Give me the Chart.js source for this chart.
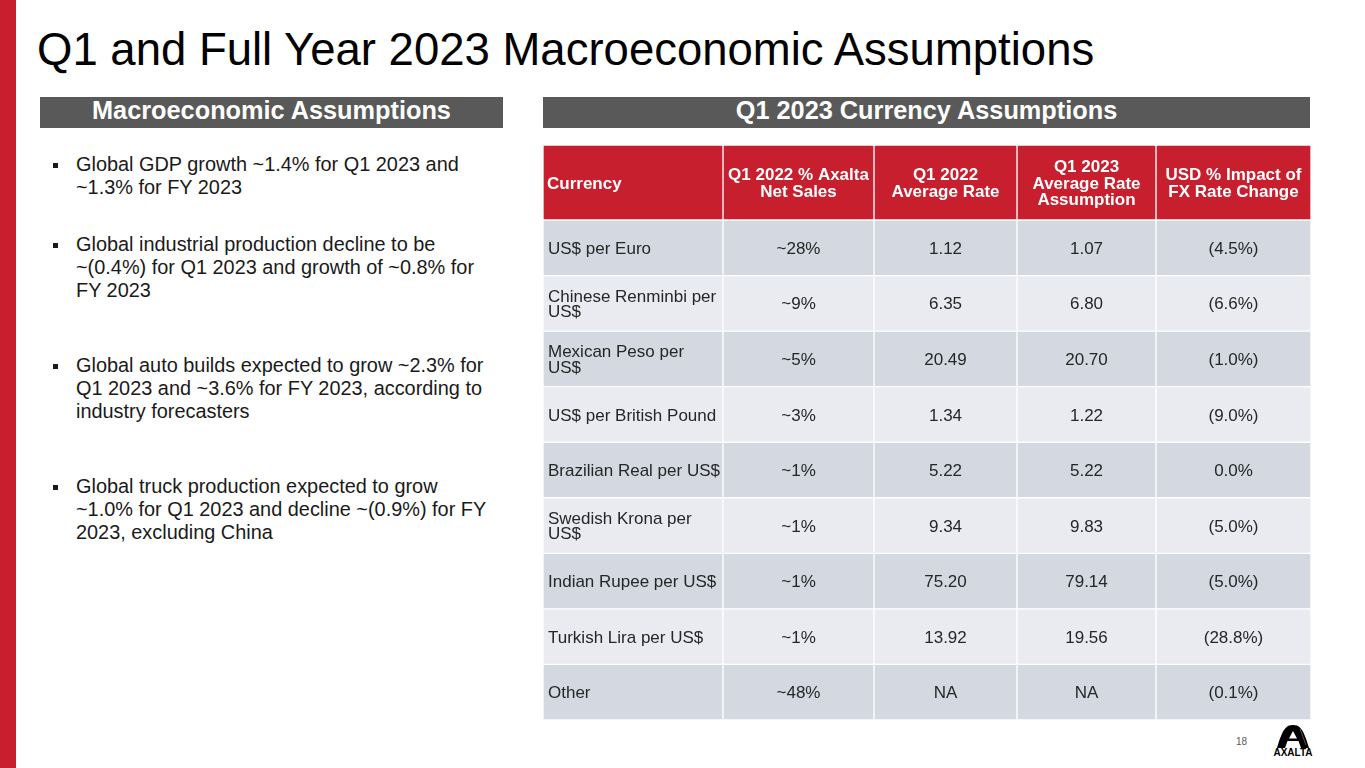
<!DOCTYPE html>
<html>
<head>
<meta charset="utf-8">
<script src="https://cdn.jsdelivr.net/npm/chart.js@4.4.1/dist/chart.umd.min.js"></script>
<style>
  html, body { margin:0; padding:0; background:#fff; }
  body { width:1365px; height:768px; position:relative; overflow:hidden; font-family:"Liberation Sans", Arial, Helvetica, sans-serif; }
  .abs { position:absolute; white-space:nowrap; }
  #redbar { left:0; top:0; width:16px; height:768px; background:#C71F2D; }
  #title { left:37px; top:26.5px; font-size:45.5px; line-height:45.5px; color:#000; }
  .sect { background:#595959; height:31px; top:97px; }
  .sectText { color:#fff; font-weight:bold; font-size:25.3px; line-height:25.3px; top:97.6px; text-align:center; }
  .bullet { left:76px; font-size:19.9px; line-height:23px; color:#1a1a1a; }
  .mark { left:53px; width:5px; height:5px; background:#1a1a1a; }
  canvas { position:absolute; }
  #pgnum { left:1236px; top:737px; font-size:10px; line-height:10px; color:#595959; }
</style>
</head>
<body>
<div id="redbar" class="abs"></div>
<div id="title" class="abs">Q1 and Full Year 2023 Macroeconomic Assumptions</div>

<div class="abs sect" style="left:40px;width:463px;"></div>
<div class="abs sectText" style="left:40px;width:463px;">Macroeconomic Assumptions</div>
<div class="abs sect" style="left:543px;width:767px;"></div>
<div class="abs sectText" style="left:543px;width:767px;">Q1 2023 Currency Assumptions</div>

<div class="abs mark" style="top:162.5px;"></div>
<div class="abs bullet" style="top:153px;">Global GDP growth ~1.4% for Q1 2023 and<br>~1.3% for FY 2023</div>
<div class="abs mark" style="top:242.5px;"></div>
<div class="abs bullet" style="top:232.8px;">Global industrial production decline to be<br>~(0.4%) for Q1 2023 and growth of ~0.8% for<br>FY 2023</div>
<div class="abs mark" style="top:363.5px;"></div>
<div class="abs bullet" style="top:354px;">Global auto builds expected to grow ~2.3% for<br>Q1 2023 and ~3.6% for FY 2023, according to<br>industry forecasters</div>
<div class="abs mark" style="top:484.5px;"></div>
<div class="abs bullet" style="top:475px;">Global truck production expected to grow<br>~1.0% for Q1 2023 and decline ~(0.9%) for FY<br>2023, excluding China</div>

<canvas id="hdr" width="768" height="75" style="left:543px;top:145px;width:768px;height:75px;"></canvas>
<canvas id="body" width="768" height="500" style="left:543px;top:220px;width:768px;height:500px;"></canvas>

<div id="pgnum" class="abs">18</div>
<svg class="abs" style="left:1272px;top:723px;" width="42" height="36" viewBox="0 0 42 36">
  <path d="M5 25 C8 15 11 5 17 2.5 C19 1.7 23 1.7 25 2.5 C31 5 34 15 37 25 L29 25 L26.5 18 L15.5 18 L13 25 Z" fill="#000"/>
  <path d="M21 8 L25 15.5 L17 15.5 Z" fill="#fff"/>
  <path d="M28 6 L34 22" stroke="#555" stroke-width="1"/>
  <text x="21" y="33" text-anchor="middle" font-family="Liberation Sans, Arial, sans-serif" font-weight="bold" font-size="10" fill="#000">AXALTA</text>
</svg>

<script>
// ---- Data ----
const headerLabels = ['Currency', ['Q1 2022 % Axalta', 'Net Sales'], ['Q1 2022', 'Average Rate'], ['Q1 2023', 'Average Rate', 'Assumption'], ['USD % Impact of', 'FX Rate Change']];
const currencies = ['US$ per Euro', ['Chinese Renminbi per', 'US$'], ['Mexican Peso per', 'US$'], 'US$ per British Pound', 'Brazilian Real per US$', ['Swedish Krona per', 'US$'], 'Indian Rupee per US$', 'Turkish Lira per US$', 'Other'];
const netSalesShare = ['~28%', '~9%', '~5%', '~3%', '~1%', '~1%', '~1%', '~1%', '~48%'];
const q1_2022Rate = ['1.12', '6.35', '20.49', '1.34', '5.22', '9.34', '75.20', '13.92', 'NA'];
const q1_2023Rate = ['1.07', '6.80', '20.70', '1.22', '5.22', '9.83', '79.14', '19.56', 'NA'];
const usdImpact = ['(4.5%)', '(6.6%)', '(1.0%)', '(9.0%)', '0.0%', '(5.0%)', '(5.0%)', '(28.8%)', '(0.1%)'];

// ---- Layout / style (kept separate from data) ----
const colWidths = [180, 151, 143, 139, 155];
const colEdges = colWidths.reduce((a, w) => { a.push(a[a.length - 1] + w); return a; }, [0]);
const RED = '#C71F2D', DARK = '#D3D8E1', LIGHT = '#E9EBF0';
const FONT = '"Liberation Sans", Arial, sans-serif';

const cellText = {
  id: 'cellText',
  afterDatasetsDraw(chart, args, opts) {
    const ctx = chart.ctx;
    ctx.save();
    ctx.font = opts.font;
    ctx.fillStyle = opts.color;
    ctx.textBaseline = 'alphabetic';
    chart.data.datasets.forEach((ds, di) => {
      const meta = chart.getDatasetMeta(di);
      meta.data.forEach((bar, i) => {
        const p = bar.getProps(['x', 'base', 'y'], true);
        const left = Math.min(p.x, p.base), right = Math.max(p.x, p.base);
        const t = ds.texts[i];
        const lines = Array.isArray(t) ? t : [t];
        const n = lines.length;
        lines.forEach((ln, k) => {
          const cy = p.y + (k - (n - 1) / 2) * opts.lineHeight;
          const by = cy + 0.358 * opts.size;
          if (di === 0) { ctx.textAlign = 'left'; ctx.fillText(ln, left + opts.pad, by); }
          else { ctx.textAlign = 'center'; ctx.fillText(ln, (left + right) / 2, by); }
        });
      });
    });
    ctx.restore();
  }
};

function tableOptions(textOpts) {
  return {
    indexAxis: 'y',
    responsive: false,
    animation: false,
    events: [],
    layout: { padding: 0 },
    datasets: { bar: { grouped: false, categoryPercentage: 1, barPercentage: 1 } },
    scales: {
      x: { type: 'linear', min: 0, max: colEdges[colEdges.length - 1], display: false },
      y: { type: 'category', display: false }
    },
    plugins: { legend: { display: false }, tooltip: { enabled: false }, cellText: textOpts }
  };
}

new Chart(document.getElementById('hdr'), {
  type: 'bar',
  data: {
    labels: ['header'],
    datasets: headerLabels.map((h, c) => ({
      data: [[colEdges[c], colEdges[c + 1]]],
      texts: [h],
      backgroundColor: RED,
      borderColor: '#ffffff',
      borderWidth: 1,
      borderSkipped: false
    }))
  },
  options: tableOptions({ font: 'bold 17px ' + FONT, size: 17, color: '#ffffff', lineHeight: 16.8, pad: 4 }),
  plugins: [cellText]
});

const columns = [currencies, netSalesShare, q1_2022Rate, q1_2023Rate, usdImpact];
new Chart(document.getElementById('body'), {
  type: 'bar',
  data: {
    labels: currencies,
    datasets: columns.map((col, c) => ({
      data: col.map(() => [colEdges[c], colEdges[c + 1]]),
      texts: col,
      backgroundColor: (ctx) => (ctx.dataIndex % 2 === 0 ? DARK : LIGHT),
      borderColor: '#ffffff',
      borderWidth: 1,
      borderSkipped: false
    }))
  },
  options: tableOptions({ font: '17px ' + FONT, size: 17, color: '#262626', lineHeight: 15.5, pad: 5 }),
  plugins: [cellText]
});
</script>
</body>
</html>
